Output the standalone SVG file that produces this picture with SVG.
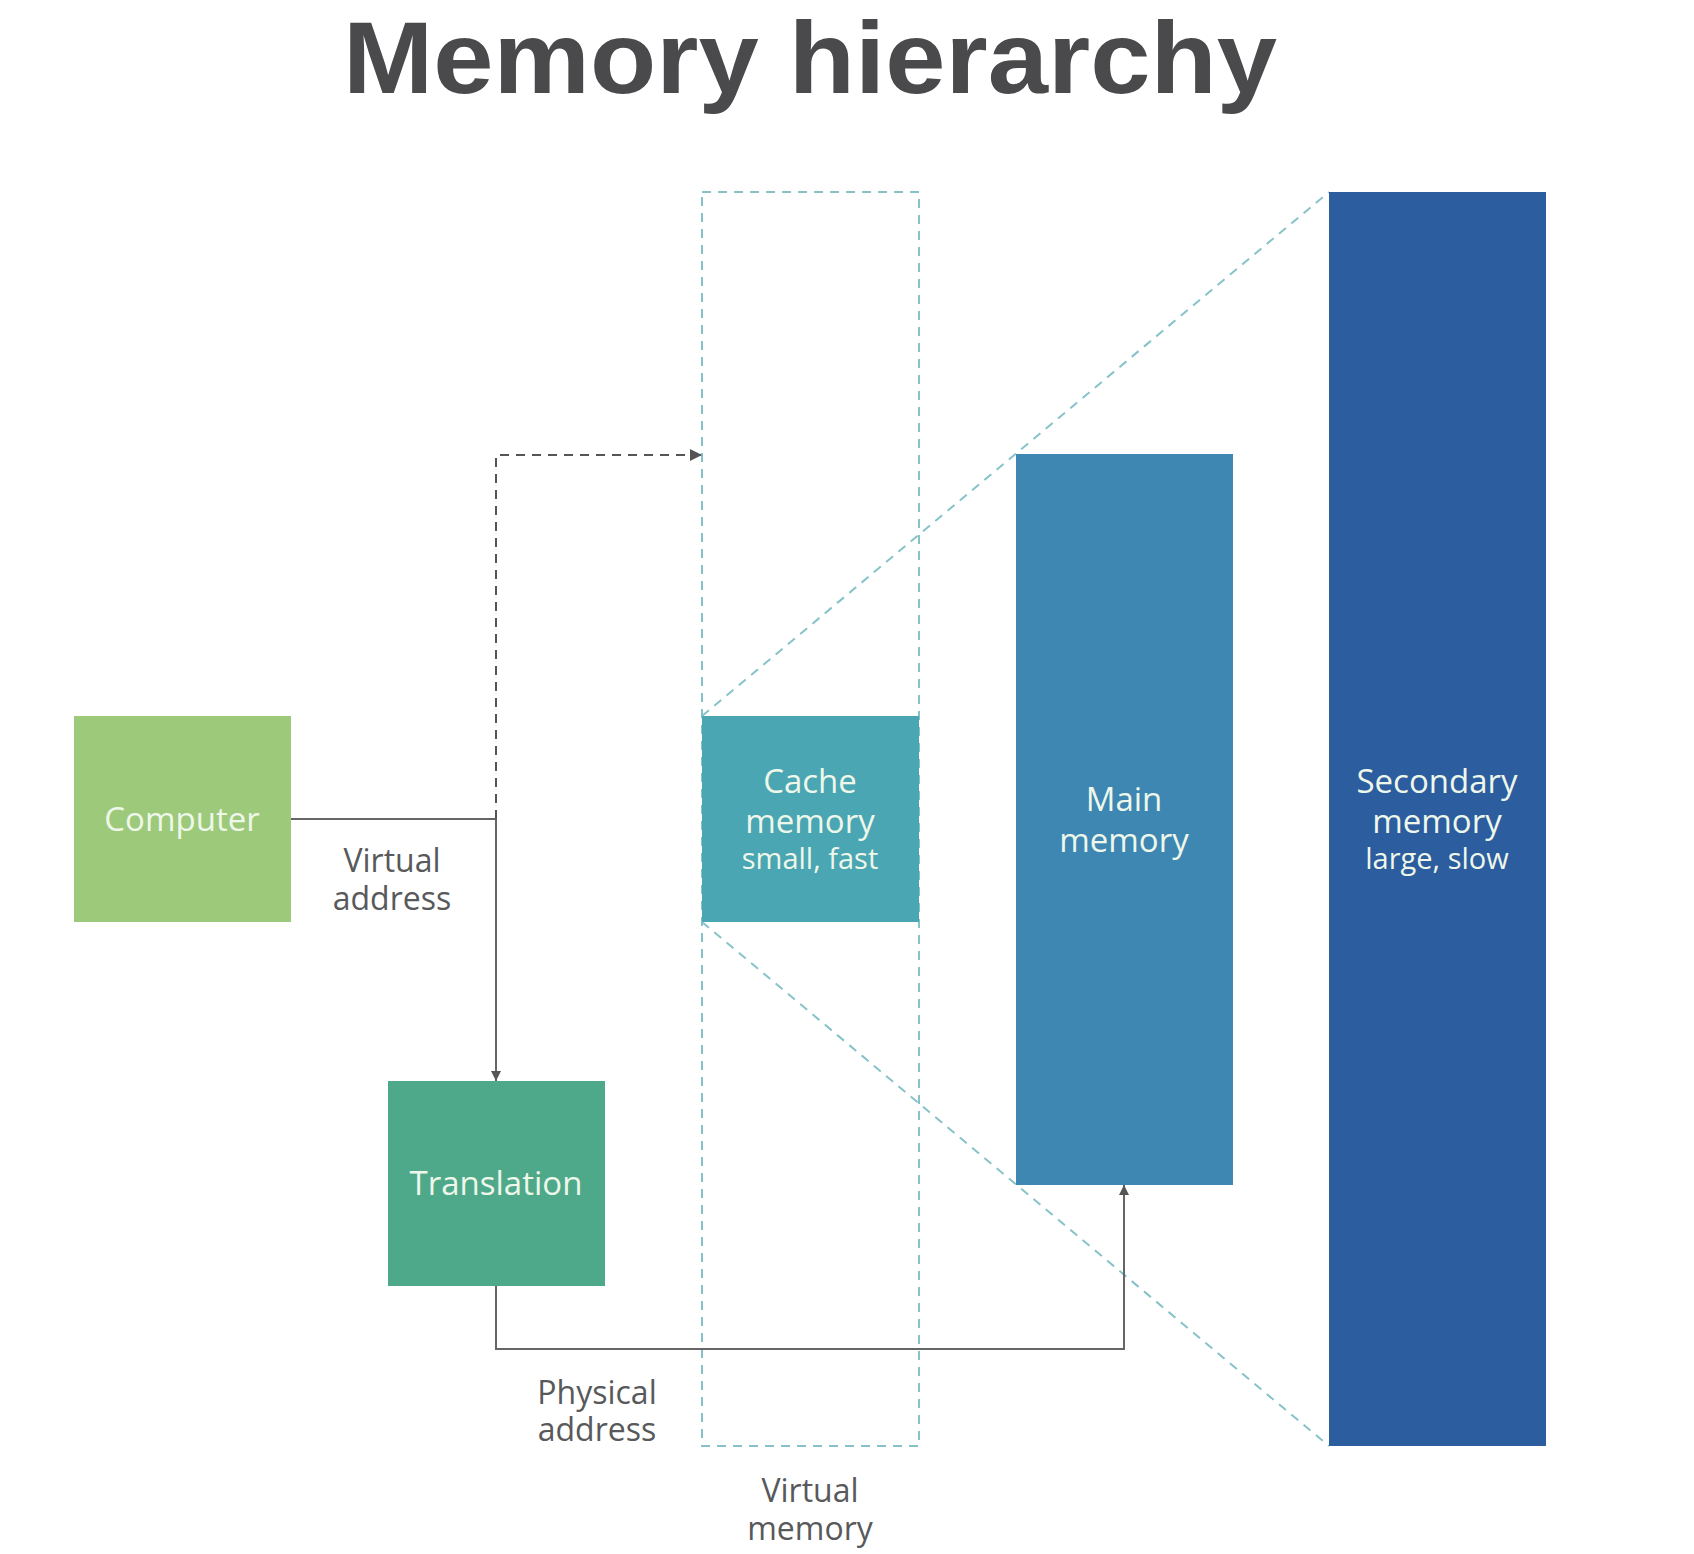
<svg xmlns="http://www.w3.org/2000/svg" width="1694" height="1554" viewBox="0 0 1694 1554">
<defs>
<marker id="arr" viewBox="0 0 10 10" refX="10" refY="5" markerWidth="10" markerHeight="10" markerUnits="userSpaceOnUse" orient="auto">
<path d="M0,0 L10,5 L0,10 z" fill="#555"/>
</marker>
<marker id="arrd" viewBox="0 0 10 10" refX="10" refY="5" markerWidth="14" markerHeight="12" markerUnits="userSpaceOnUse" orient="auto">
<path d="M0,0 L10,5 L0,10 z" fill="#555"/>
</marker>
</defs>
<style>
.title{font-family:"Liberation Sans",Arial,sans-serif;font-weight:bold;font-size:102px;fill:#4a4a4c}
.nt{font-family:"Open Sans","DejaVu Sans",sans-serif;font-size:33px;fill:#eef7ea;text-anchor:middle}
.ns{font-size:29px}
.lb{font-family:"Open Sans","DejaVu Sans",sans-serif;font-size:32px;fill:#58595b;text-anchor:middle}
.guide{fill:none;stroke:#86c3c9;stroke-width:2;stroke-dasharray:9,7}
.conn{fill:none;stroke:#666;stroke-width:2}
.dconn{fill:none;stroke:#555;stroke-width:2;stroke-dasharray:9,7}
</style>
<rect width="1694" height="1554" fill="#fff"/>
<text class="title" x="810" y="93" text-anchor="middle" textLength="934" lengthAdjust="spacingAndGlyphs">Memory hierarchy</text>

<g id="virtual-memory">
<rect class="guide" x="702" y="192" width="217" height="1254"/>
<text class="lb"><tspan x="810" y="1502">Virtual</tspan><tspan x="810" y="1540">memory</tspan></text>
</g>

<g id="guides">
<line class="guide" x1="702" y1="716" x2="1329" y2="192"/>
<line class="guide" x1="702" y1="922" x2="1329" y2="1446"/>
</g>

<g id="connectors">
<path class="conn" d="M291,819 H496 V1081" marker-end="url(#arr)"/>
<path class="dconn" d="M496,819 V455 H702" marker-end="url(#arrd)"/>
<path class="conn" d="M496,1286 V1349 H1124 V1185" marker-end="url(#arr)"/>
<text class="lb"><tspan x="392" y="872">Virtual</tspan><tspan x="392" y="910">address</tspan></text>
<text class="lb"><tspan x="597" y="1404">Physical</tspan><tspan x="597" y="1441">address</tspan></text>
</g>

<g id="computer">
<rect x="74" y="716" width="217" height="206" fill="#9dc97a"/>
<text class="nt" x="182" y="831">Computer</text>
</g>

<g id="translation">
<rect x="388" y="1081" width="217" height="205" fill="#4ea98a"/>
<text class="nt" x="496" y="1195">Translation</text>
</g>

<g id="cache">
<rect x="702" y="716" width="217" height="206" fill="#4aa6b2"/>
<text class="nt"><tspan x="810" y="793">Cache</tspan><tspan x="810" y="833">memory</tspan><tspan class="ns" x="810" y="869">small, fast</tspan></text>
</g>

<g id="main">
<rect x="1016" y="454" width="217" height="731" fill="#3d87b2"/>
<text class="nt"><tspan x="1124" y="811">Main</tspan><tspan x="1124" y="852">memory</tspan></text>
</g>

<g id="secondary">
<rect x="1329" y="192" width="217" height="1254" fill="#2b5d9f"/>
<text class="nt"><tspan x="1437" y="793">Secondary</tspan><tspan x="1437" y="833">memory</tspan><tspan class="ns" x="1437" y="869">large, slow</tspan></text>
</g>
</svg>
